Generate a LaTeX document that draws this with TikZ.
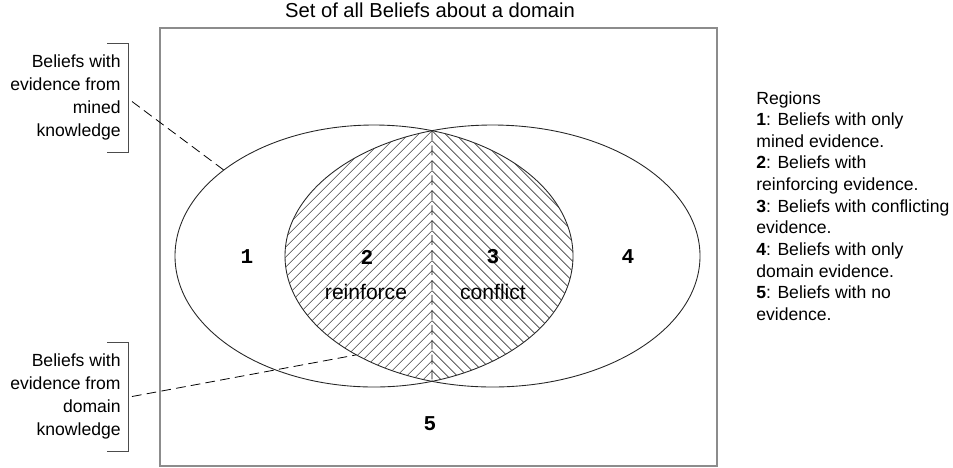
\documentclass[tikz,border=0pt]{standalone}
\usepackage{fontspec}
\setmainfont{Liberation Sans}
\setmonofont{Liberation Mono}
\usetikzlibrary{calc, intersections, positioning}

\begin{document}
\begin{tikzpicture}[
	num/.style={font=\fontsize{12}{14}\selectfont\ttfamily\bfseries},
	word/.style={font=\fontsize{12}{14}\selectfont},
	side/.style={align=right, inner sep=0pt, anchor=east, font=\fontsize{10}{13}\selectfont},
	bracket/.style={black!70, line width=.5pt},
	leader/.style={dash pattern=on 5.5pt off 3pt, line width=.45pt},
	hatch/.style={line width=.35pt, black!75},
	set/.style={line width=.5pt, black!85}
]
	\useasboundingbox (0,0) rectangle (19.06,-9.34);

	% all beliefs
	\draw[black!45, line width=1.1pt] (3.2,-0.56) rectangle (14.34,-9.32);
	\node[font=\fontsize{11.5}{14}\selectfont] (title) at (8.6,-0.21) {Set of all Beliefs about a domain};

	% mined and domain evidence sets
	\coordinate (cmined) at (7.48,-5.12);
	\coordinate (cdomain) at (9.85,-5.12);
	\draw[set, name path=mined] (cmined) ellipse [x radius=3.98cm, y radius=2.62cm];
	\draw[set, name path=domain] (cdomain) ellipse [x radius=4.15cm, y radius=2.62cm];
	\path[name intersections={of=mined and domain, by={top, bot}}];

	% overlap, hatched both ways from the split
	\begin{scope}
		\clip (cmined) ellipse [x radius=3.98cm, y radius=2.62cm];
		\clip (cdomain) ellipse [x radius=4.15cm, y radius=2.62cm];
		\foreach \k in {-26,...,42}
			\draw[hatch] ([yshift=\k*2mm]top) -- ++(-6,-6) ([yshift=\k*2mm]top) -- ++(6,-6);
	\end{scope}
	\draw[leader] (top) -- (bot);

	% region numbers
	\node[num] (r1) at (4.94,-5.14) {1};
	\node[num] (r2) at (7.34,-5.14) {2};
	\node[num] (r3) at (9.86,-5.14) {3};
	\node[num] (r4) at (12.56,-5.14) {4};
	\node[num] (r5) at (8.6,-8.48) {5};
	\node[word] (reinf) at (7.32,-5.84) {reinforce};
	\node[word] (confl) at (9.86,-5.84) {conflict};

	% side notes with brackets
	\node[side] (minedtxt) at (2.42,-1.95) {Beliefs with\\evidence from\\mined\\knowledge};
	\node[side] (domaintxt) at (2.42,-7.93) {Beliefs with\\evidence from\\domain\\knowledge};
	\draw[bracket] ([shift={(-0.28,1.09)}]minedtxt.east) -- ++(0.42,0) -- ++(0,-2.18) -- ++(-0.42,0);
	\draw[bracket] ([shift={(-0.28,1.09)}]domaintxt.east) -- ++(0.42,0) -- ++(0,-2.18) -- ++(-0.42,0);
	\coordinate (minedend) at ($(cmined)+(139:3.98cm and 2.62cm)$);
	\coordinate (domainend) at ($(cdomain)+(229:4.15cm and 2.62cm)$);
	\draw[leader] ([shift={(0.22,-0.08)}]minedtxt.east) -- (minedend);
	\draw[leader] ([xshift=2.2mm]domaintxt.east) -- (domainend);

	% key
	\node[anchor=north west, inner sep=0pt, align=left, font=\fontsize{10}{12.3}\selectfont] (key) at (15.12,-1.82)
		{Regions\\\textbf{1}: Beliefs with only\\mined evidence.\\\textbf{2}: Beliefs with\\reinforcing evidence.\\\textbf{3}: Beliefs with conflicting\\evidence.\\\textbf{4}: Beliefs with only\\domain evidence.\\\textbf{5}: Beliefs with no\\evidence.};
\end{tikzpicture}
\end{document}
